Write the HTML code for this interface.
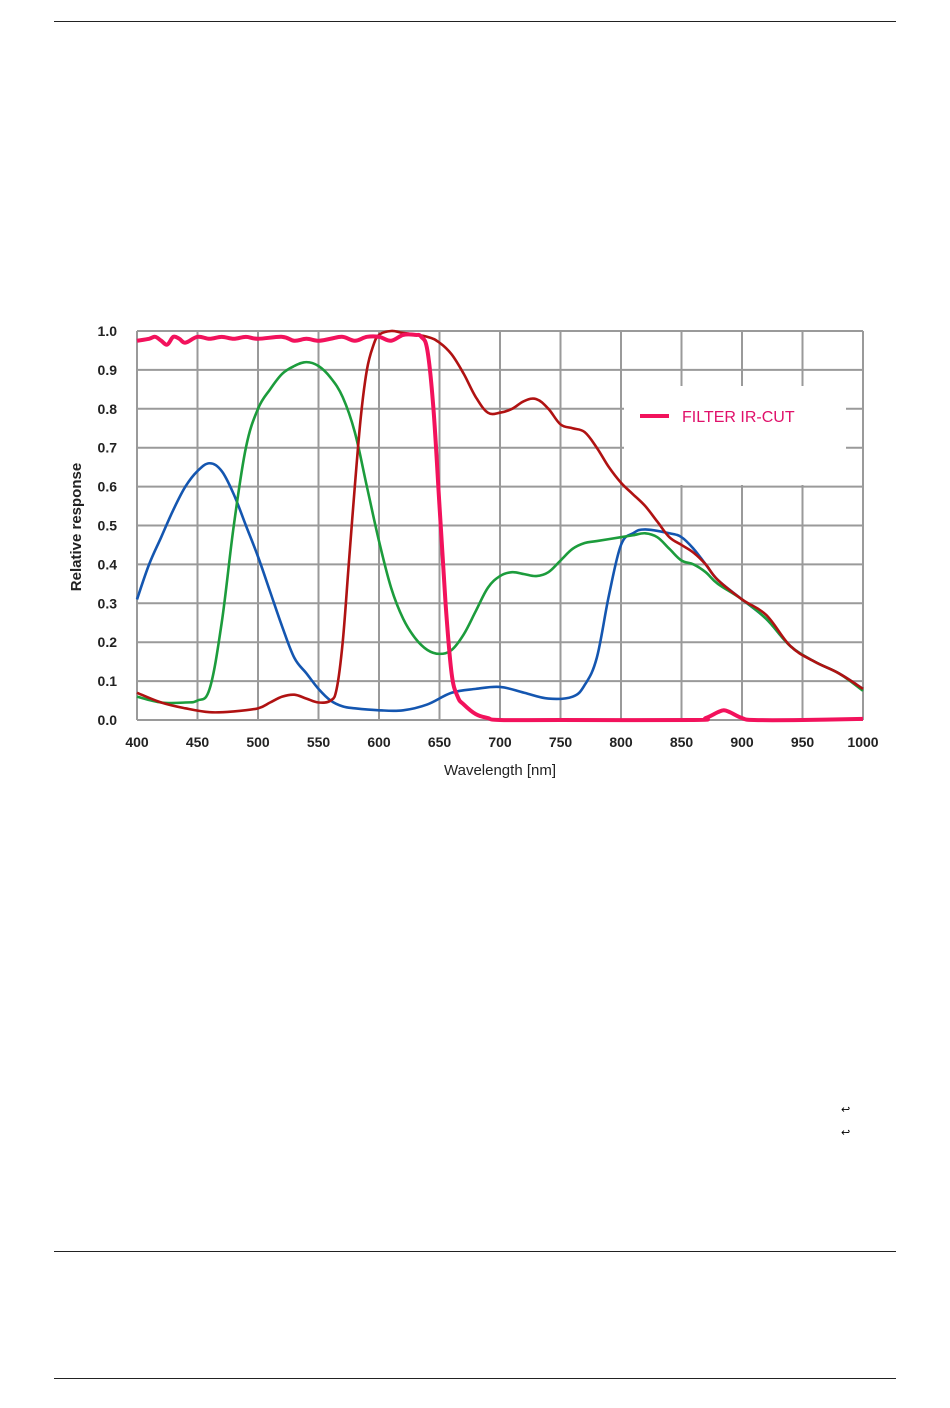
<!DOCTYPE html>
<html><head><meta charset="utf-8"><style>
body{margin:0;background:#fff;width:950px;height:1408px;position:relative;overflow:hidden;font-family:"Liberation Sans",sans-serif}
.rule{position:absolute;left:54px;width:842px;height:1px;background:#222}
</style></head><body>
<div class="rule" style="top:21px"></div>
<div class="rule" style="top:1251px"></div>
<div class="rule" style="top:1378px"></div>
<div style="position:absolute;left:841px;top:1103px;font-size:11px">↩</div>
<div style="position:absolute;left:841px;top:1126px;font-size:11px">↩</div>
<svg id="chart" width="950" height="1408" style="position:absolute;left:0;top:0"></svg>
<script>
const xTicks=[400,450,500,550,600,650,700,750,800,850,900,950,1000];
const yTicks=[0,0.1,0.2,0.3,0.4,0.5,0.6,0.7,0.8,0.9,1.0];
const blueWl=[400,410,420,430,440,450,460,470,480,490,500,510,520,530,540,550,560,570,580,600,620,640,660,680,700,720,740,760,770,780,790,800,810,820,840,850,860,870,880,900,920,940,960,980,1000];
const blueVal=[0.31,0.40,0.47,0.54,0.60,0.64,0.66,0.64,0.58,0.50,0.42,0.33,0.24,0.16,0.12,0.08,0.05,0.035,0.03,0.025,0.025,0.04,0.07,0.08,0.085,0.07,0.055,0.06,0.09,0.16,0.32,0.45,0.48,0.49,0.48,0.47,0.44,0.40,0.36,0.31,0.26,0.19,0.15,0.12,0.08];
const greenWl=[400,420,440,450,460,470,480,490,500,510,520,530,540,550,560,570,580,590,600,610,620,630,640,650,660,670,680,690,700,710,720,730,740,750,760,770,780,800,810,820,830,840,850,860,870,880,900,920,940,960,980,1000];
const greenVal=[0.06,0.045,0.045,0.05,0.08,0.25,0.50,0.70,0.80,0.85,0.89,0.91,0.92,0.91,0.88,0.83,0.74,0.60,0.46,0.34,0.26,0.21,0.18,0.17,0.18,0.22,0.28,0.34,0.37,0.38,0.375,0.37,0.38,0.41,0.44,0.455,0.46,0.47,0.475,0.48,0.47,0.44,0.41,0.40,0.38,0.35,0.31,0.26,0.19,0.15,0.12,0.075];
const redWl=[400,420,440,460,480,500,510,520,530,540,550,560,565,570,575,580,585,590,595,600,610,620,640,650,660,670,680,690,700,710,720,730,740,750,760,770,780,790,800,810,820,830,840,850,860,870,880,900,920,940,960,980,1000];
const redVal=[0.07,0.045,0.03,0.02,0.022,0.03,0.045,0.06,0.065,0.055,0.045,0.05,0.08,0.20,0.40,0.60,0.78,0.90,0.96,0.99,1.0,0.995,0.985,0.97,0.94,0.89,0.83,0.79,0.79,0.80,0.82,0.825,0.80,0.76,0.75,0.74,0.70,0.65,0.61,0.58,0.55,0.51,0.47,0.45,0.43,0.40,0.36,0.31,0.27,0.19,0.15,0.12,0.08];
const pinkWl=[400,410,415,420,425,430,435,440,450,460,470,480,490,500,520,530,540,550,560,570,580,590,600,610,620,630,635,640,645,650,655,660,665,670,680,690,700,750,860,870,880,885,890,900,910,950,1000];
const pinkVal=[0.975,0.98,0.985,0.975,0.965,0.985,0.98,0.97,0.985,0.98,0.985,0.98,0.985,0.98,0.985,0.975,0.98,0.975,0.98,0.985,0.975,0.985,0.985,0.975,0.99,0.99,0.985,0.95,0.80,0.55,0.30,0.12,0.06,0.04,0.015,0.005,0,0,0,0.005,0.02,0.025,0.02,0.005,0,0,0.003];
const NS='http://www.w3.org/2000/svg';
const svg=document.getElementById('chart');
const X0=137,X1=863,Y0=720,Y1=331;
const sx=v=>X0+(v-400)/600*(X1-X0);
const sy=v=>Y0-v*(Y0-Y1);
function mk(t,a){const e=document.createElementNS(NS,t);for(const k in a)e.setAttribute(k,a[k]);svg.appendChild(e);return e;}
xTicks.forEach(t=>{
 const l=mk('line',{x1:sx(t),x2:sx(t),y1:Y1,y2:Y0,stroke:'#9a9a9a','stroke-width':2});
 
 
 const tx=mk('text',{x:sx(t),y:747,'text-anchor':'middle','font-size':14,'font-weight':'bold',fill:'#222'});
 tx.textContent=t;
 
 
});
yTicks.forEach(t=>{
 const l=mk('line',{x1:X0,x2:X1,y1:sy(t),y2:sy(t),stroke:'#9a9a9a','stroke-width':2});
 
 
 const tx=mk('text',{x:117,y:sy(t)+5,'text-anchor':'end','font-size':14,'font-weight':'bold',fill:'#222'});
 tx.textContent=t.toFixed(1);
 
 
});
const lb=mk('rect',{x:624,y:386,width:222,height:99,fill:'#fff'});


function path(wl,val){
 const p=wl.map((w,i)=>[sx(w),sy(val[i])]);
 let d='M'+p[0][0]+','+p[0][1];
 for(let i=0;i<p.length-1;i++){
  const a=p[Math.max(i-1,0)],b=p[i],c=p[i+1],e=p[Math.min(i+2,p.length-1)];
  const k=0.18;
  d+=' C'+(b[0]+(c[0]-a[0])*k)+','+(b[1]+(c[1]-a[1])*k)+' '+(c[0]-(e[0]-b[0])*k)+','+(c[1]-(e[1]-b[1])*k)+' '+c[0]+','+c[1];
 }
 return d;
}
[[blueWl,blueVal,'#1456b0',2.6,'blue-series'],[greenWl,greenVal,'#1c9c3c',2.6,'green-series'],[redWl,redVal,'#b01212',2.6,'red-series'],[pinkWl,pinkVal,'#f2125c',4,'ir-cut-filter-series']].forEach(s=>{
 const p=mk('path',{d:path(s[0],s[1]),fill:'none',stroke:s[2],'stroke-width':s[3],'stroke-linejoin':'round'});
 
 
});
const ll=mk('line',{x1:640,x2:669,y1:416,y2:416,stroke:'#f2125c','stroke-width':4});


const lt=mk('text',{x:682,y:422,'font-size':16,fill:'#e0106a'});
lt.textContent='FILTER IR-CUT';


const xt=mk('text',{x:500,y:775,'text-anchor':'middle','font-size':15,fill:'#222'});
xt.textContent='Wavelength [nm]';


const yt=mk('text',{x:0,y:0,'text-anchor':'middle','font-size':15,'font-weight':'bold',fill:'#222',transform:'translate(81,527) rotate(-90)'});
yt.textContent='Relative response';


</script>
</body></html>
